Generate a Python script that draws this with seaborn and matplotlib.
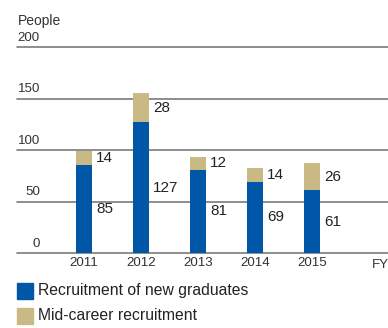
import matplotlib
matplotlib.use("Agg")
import matplotlib.pyplot as plt
import seaborn as sns
import pandas as pd

years = ["2011", "2012", "2013", "2014", "2015"]
new_graduates = [85, 127, 81, 69, 61]
mid_career = [14, 28, 12, 14, 26]
y_ticks = [0, 50, 100, 150, 200]
series_names = ["Recruitment of new graduates", "Mid-career recruitment"]

BLUE = "#0057A8"
TAN = "#C8B985"
TXT = "#333333"

sns.set_theme(style="white")
plt.rcParams["font.family"] = ["Liberation Sans", "DejaVu Sans"]

totals = [a + b for a, b in zip(new_graduates, mid_career)]
df = pd.DataFrame({"year": years, "new": new_graduates, "mid": mid_career, "total": totals})

fig = plt.figure(figsize=(3.88, 3.28), dpi=100)
ax = fig.add_axes([17 / 388, 75 / 328, 371 / 388, 206 / 328])

sns.barplot(data=df, x="year", y="total", color=TAN, width=0.27, saturation=1,
            linewidth=0, ax=ax, zorder=3)
sns.barplot(data=df, x="year", y="new", color=BLUE, width=0.27, saturation=1,
            linewidth=0, ax=ax, zorder=3)

ax.set_ylim(0, 200)
ax.set_xlim(-1.175, 5.33)
for s in ax.spines.values():
    s.set_visible(False)
ax.set_yticks([])
ax.set_xlabel("")
ax.set_ylabel("")
ax.tick_params(axis="x", length=0, pad=3, labelsize=9.6, labelcolor=TXT)

for v in y_ticks:
    ax.axhline(v, color="#7a7a7a", lw=1.2, zorder=2, clip_on=False)
    ax.annotate(str(v), xy=(0, v), xycoords=("axes fraction", "data"),
                xytext=(16.5, 2.5), textcoords="offset points",
                ha="right", va="bottom", fontsize=9.6, color=TXT)

ax.annotate("People", xy=(0, 200), xycoords=("axes fraction", "data"),
            xytext=(0.5, 14), textcoords="offset points",
            ha="left", va="bottom", fontsize=10, color=TXT)

ax.text(5.2, -6, "FY", ha="center", va="top", fontsize=9.6, color=TXT)

for i, (n, m) in enumerate(zip(new_graduates, mid_career)):
    ax.annotate(str(n), xy=(i + 0.135, n / 2), xytext=(3, 0), textcoords="offset points",
                ha="left", va="center", fontsize=11, color="#222222")
    ax.annotate(str(m), xy=(i + 0.135, n + m / 2), xytext=(3, 0), textcoords="offset points",
                ha="left", va="center", fontsize=11, color="#222222")

# legend
for k, (name, col) in enumerate(zip(series_names, [BLUE, TAN])):
    y0 = 1 - (283 + k * 25) / 328
    fig.patches.append(plt.Rectangle((17 / 388, y0 - 16 / 328), 16 / 388, 16 / 328,
                                     transform=fig.transFigure, color=col, figure=fig))
    fig.text(38 / 388, y0 - 8 / 328, name, ha="left", va="center",
             fontsize=11.3, color="#222222")

fig.savefig("out.png", dpi=100)
